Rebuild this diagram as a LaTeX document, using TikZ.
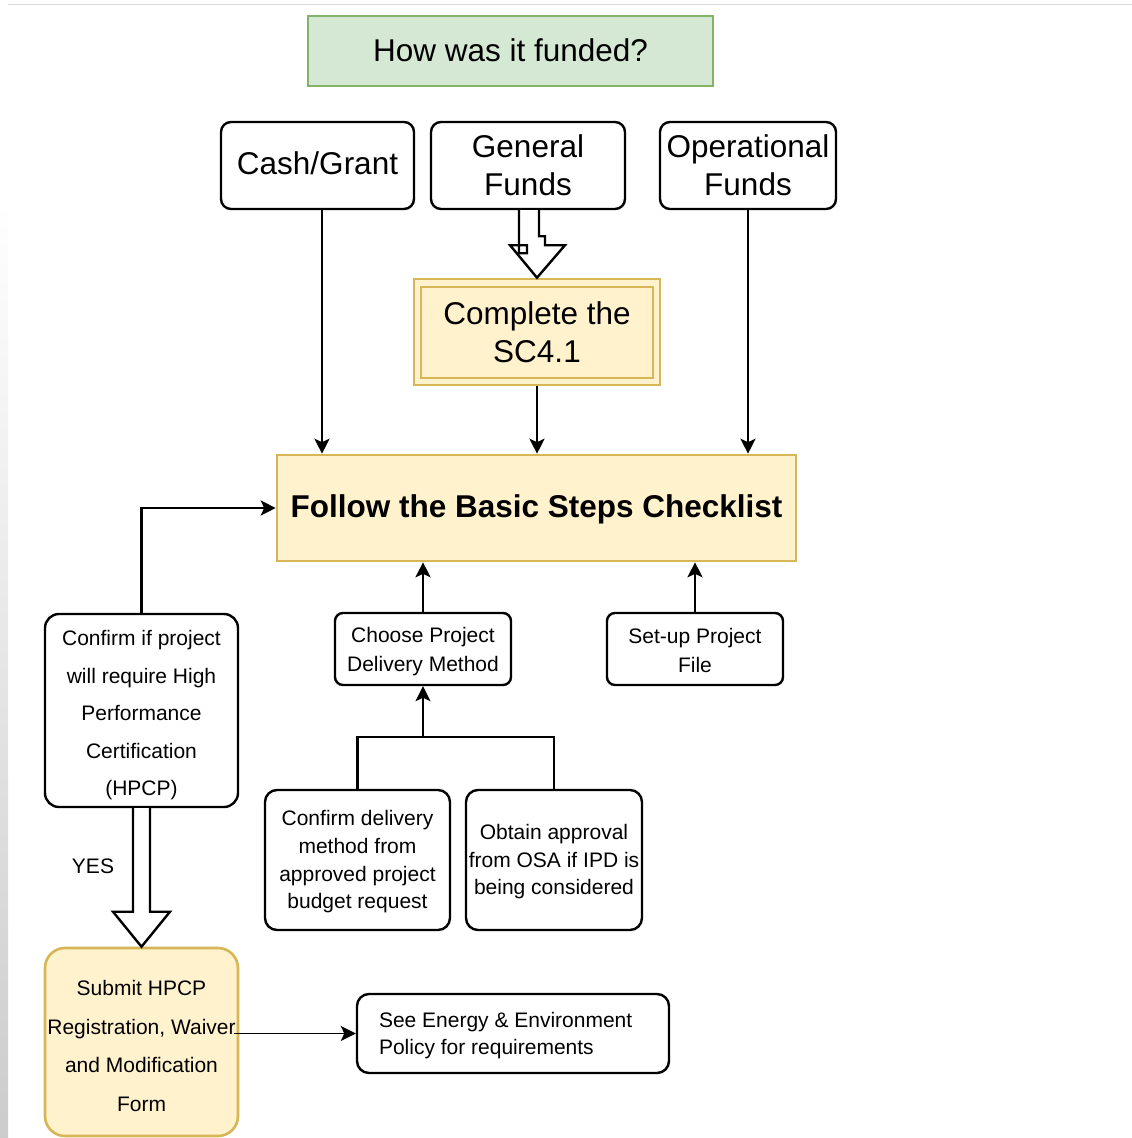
\documentclass[tikz,border=0pt]{standalone}
\usepackage{fontspec}
\setmainfont{Liberation Sans}
\usetikzlibrary{arrows.meta,calc}
\definecolor{greenfill}{HTML}{D5E8D4}
\definecolor{greenline}{HTML}{82B366}
\definecolor{yelfill}{HTML}{FFF2CC}
\definecolor{yelline}{HTML}{D6B656}
\definecolor{edgegray}{HTML}{CCCCCC}
\begin{document}
\begin{tikzpicture}[x=1pt,y=-1pt,
  box/.style={draw=black,line width=2.4pt,fill=white,rounded corners=10pt,inner sep=0pt},
  ybox/.style={draw=yelline,line width=2.6pt,fill=yelfill,inner sep=0pt},
  txt/.style={inner sep=0pt,align=center},
  big/.style={font=\fontsize{31.5}{38}\selectfont},
  small/.style={font=\fontsize{21}{#1}\selectfont},
  headtip/.style={-{Stealth[length=15pt,width=15pt,inset=3.5pt]}},
  arr/.style={line width=2.4pt,headtip},
  blockarrow/.style={draw=black,line width=2.4pt,fill=white,line join=miter}]
\useasboundingbox (0,0) rectangle (1132,1138);
\fill[white] (0,0) rectangle (1132,1138);
% page edges
\draw[edgegray!70,line width=1.5pt] (8,4.5) -- (1132,4.5);
\shade[top color=white,bottom color=edgegray] (0,200) rectangle (8,1138);

% funding sources
\node[draw=greenline,fill=greenfill,line width=2.6pt,inner sep=0pt,minimum width=405,minimum height=70] (title) at (510.5,51) {};
\node[txt,big] (title-t) at ($(title)+(0,-1)$) {How was it funded?};
\node[box,minimum width=193,minimum height=87] (cash) at (317.5,165.5) {};
\node[txt,big] (cash-t) at ($(cash)+(0,-2)$) {Cash/Grant};
\node[box,minimum width=194,minimum height=87] (gen) at (528,165.5) {};
\node[txt,big] (gen-t) at (gen) {General\\Funds};
\node[box,minimum width=176,minimum height=87] (op) at (748,165.5) {};
\node[txt,big] (op-t) at (op) {Operational\\Funds};

% SC4.1 with double border
\node[ybox,minimum width=246,minimum height=106] (sc) at (537,332) {};
\draw[yelline,line width=2.2pt] ($(sc.north west)+(8,9)$) rectangle ($(sc.south east)+(-8,-8)$);
\node[txt,big] (sc-t) at (sc) {Complete the\\SC4.1};

% main checklist
\node[ybox,minimum width=519,minimum height=106] (follow) at (536.5,508) {};
\node[txt,font=\fontsize{31.5}{38}\selectfont\bfseries] (follow-t) at ($(follow)+(0,1)$) {Follow the Basic Steps Checklist};

% steps
\node[box,rounded corners=14pt,minimum width=193,minimum height=193] (hpcp) at (141.5,710.5) {};
\node[txt,small=37.5] (hpcp-t) at ($(hpcp)+(0,5)$) {Confirm if project\\will require High\\Performance\\Certification\\(HPCP)};
\node[box,rounded corners=8pt,minimum width=176,minimum height=72] (choose) at (423,649) {};
\node[txt,small=29] (choose-t) at ($(choose)+(0,3)$) {Choose Project\\Delivery Method};
\node[box,rounded corners=8pt,minimum width=176,minimum height=72] (setup) at (695,649) {};
\node[txt,small=29] (setup-t) at ($(setup)+(0,1)$) {Set-up Project\\File};
\node[box,rounded corners=12pt,minimum width=185,minimum height=140] (cdel) at (357.5,860) {};
\node[txt,small=27.7] (cdel-t) at ($(cdel)+(0,2)$) {Confirm delivery\\method from\\approved project\\budget request};
\node[box,rounded corners=12pt,minimum width=176,minimum height=140] (obt) at (554,860) {};
\node[txt,small=27.5] (obt-t) at ($(obt)+(0,2)$) {Obtain approval\\from OSA if IPD is\\being considered};
\node[ybox,rounded corners=20pt,minimum width=193,minimum height=188] (submit) at (141.5,1042) {};
\node[txt,small=38.5] (submit-t) at ($(submit)+(0,4)$) {Submit HPCP\\Registration, Waiver\\and Modification\\Form};
\node[box,rounded corners=12pt,minimum width=312,minimum height=79] (see) at (513,1033.5) {};
\node[txt,small=27,align=left,anchor=west] (see-t) at ($(see.west)+(23,2)$) {See Energy \& Environment\\Policy for requirements};
\node[txt,small=28] (yes) at (93,866) {YES};

% connectors into the checklist
\coordinate (cashout) at ($(cash.south)+(4.5,0)$);
\draw[arr] (cashout) -- (cashout |- follow.north);
\draw[arr] (sc.south) -- (sc.south |- follow.north);
\draw[arr] (op.south) -- (op.south |- follow.north);
\draw[arr] (hpcp.north) |- (follow.west);
\draw[arr] (choose.north) -- (choose.north |- follow.south);
\draw[arr] (setup.north) -- (setup.north |- follow.south);

% delivery method branches
\coordinate (join) at (423,737);
\draw[line width=2.4pt] (cdel.north) |- (join) -| (obt.north);
\draw[arr] (join) -- (choose.south);

% block arrow from General Funds to SC4.1
\draw[blockarrow] ($(gen.south)+(11,0)$) -- ($(gen.south)+(11,26)$) -- ($(gen.south)+(17,26)$)
  -- ($(gen.south)+(17,35)$) -- ($(gen.south)+(37,35)$) -- (sc.north)
  -- ($(gen.south)+(-18,35)$) -- ($(gen.south)+(-1,35)$) -- ($(gen.south)+(-1,43)$)
  -- ($(gen.south)+(-9,43)$) -- ($(gen.south)+(-9,0)$);

% YES block arrow
\draw[blockarrow] ($(hpcp.south)+(-8.5,0)$) -- ($(submit.north)+(-8.5,-35)$) -- ($(submit.north)+(-28.5,-35)$)
  -- (submit.north) -- ($(submit.north)+(28.5,-35)$) -- ($(submit.north)+(8.5,-35)$) -- ($(hpcp.south)+(8.5,0)$);

% link to the energy policy
\coordinate (subout) at ($(submit.east |- see.west)+(-5,0)$);
\draw[line width=1.6pt,headtip] (subout) -- (see.west);
\end{tikzpicture}
\end{document}
